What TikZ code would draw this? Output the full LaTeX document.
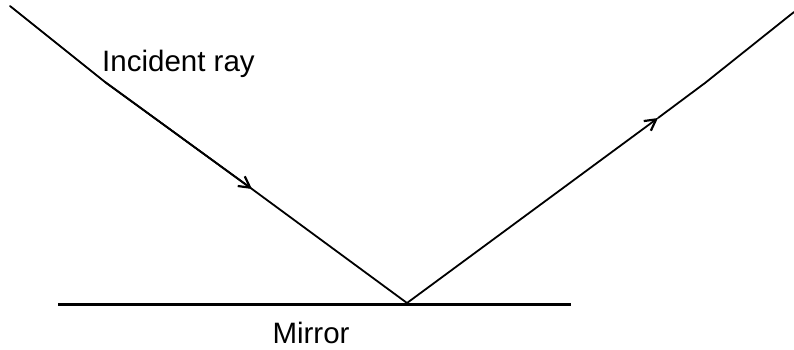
\documentclass[tikz,border=0pt]{standalone}
\usepackage{fontspec}
\setmainfont{Liberation Sans}
\usetikzlibrary{arrows.meta}
\begin{document}
\begin{tikzpicture}[x=1pt,y=-1pt,
  ray/.style={line width=1.8pt,line cap=round,line join=round},
  rayarrow/.style={ray,-{Straight Barb[length=11pt,width=12pt,line width=2.2pt]}},
  mirrorline/.style={line width=3pt},
  lbl/.style={inner sep=0pt,font=\fontsize{29.5}{31}\selectfont}]
\useasboundingbox (0,0) rectangle (794,350);
\coordinate (s) at (10,6);
\coordinate (k1) at (105,82);
\coordinate (a1) at (252,189);
\coordinate (v) at (407,303);
\coordinate (a2) at (658,118);
\coordinate (k2) at (705,83);
\coordinate (e) at (794,12);
\coordinate (ml) at (58,304);
\coordinate (mr) at (571,304);
\draw[mirrorline] (ml) -- (mr);
\draw[ray] (s) -- (k1) -- (a1);
\draw[rayarrow] (k1) -- (a1);
\draw[ray] (a1) -- (v);
\draw[rayarrow] (v) -- (a2);
\draw[ray] (a2) -- (k2) -- (e);
\node[lbl,anchor=base west] (inc) at (102,72) {Incident ray};
\node[lbl,anchor=base] (mir) at (311,343) {Mirror};
\end{tikzpicture}
\end{document}
